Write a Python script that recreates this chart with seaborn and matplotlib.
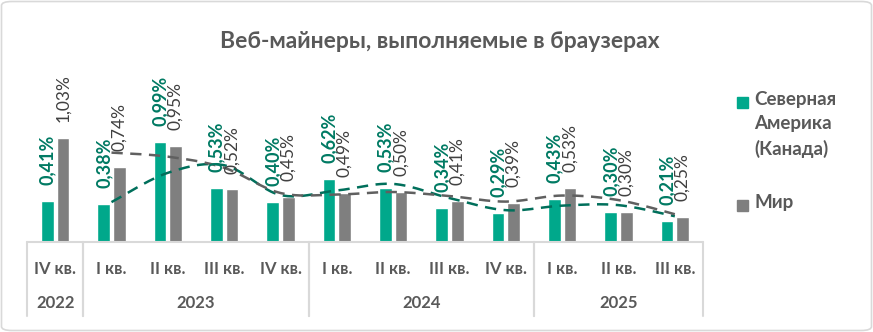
import numpy as np
import pandas as pd
import matplotlib
matplotlib.use("Agg")
import matplotlib.pyplot as plt
import matplotlib.transforms as mtransforms
from matplotlib.patches import FancyBboxPatch, Rectangle
from matplotlib.lines import Line2D
import seaborn as sns

# ---------------- data ----------------
quarters = ["IV кв.", "I кв.", "II кв.", "III кв.", "IV кв.",
            "I кв.", "II кв.", "III кв.", "IV кв.",
            "I кв.", "II кв.", "III кв."]
years = ["2022", "2023", "2023", "2023", "2023",
         "2024", "2024", "2024", "2024",
         "2025", "2025", "2025"]
north_america = [0.41, 0.38, 0.99, 0.53, 0.40, 0.62, 0.53, 0.34, 0.29, 0.43, 0.30, 0.21]
world = [1.03, 0.74, 0.95, 0.52, 0.45, 0.49, 0.50, 0.41, 0.39, 0.53, 0.30, 0.25]
series_names = ["Северная\nАмерика\n(Канада)", "Мир"]
title = "Веб-майнеры, выполняемые в браузерах"

# ---------------- style ----------------
sns.set_theme(style="white")
plt.rcParams["font.family"] = ["Lato", "DejaVu Sans"]

GREEN = "#00A88B"
GREEN_LBL = "#007A63"
GREEN_TREND = "#006F5B"
GRAY = "#7F7F7F"
GRAY_LBL = "#404040"
GRAY_TREND = "#606060"
TXT = "#595959"
LINE = "#D9D9D9"

W, H = 873, 332
fig = plt.figure(figsize=(W / 100, H / 100), dpi=100)

def fx(px):
    return px / W

def fy(py):
    return 1 - py / H

ax_left, ax_right, base_y = 27, 703, 242
ymax = 1.2
px_per_unit = 101
ax = fig.add_axes([fx(ax_left), fy(base_y), fx(ax_right - ax_left),
                   px_per_unit * ymax / H])

keys = [f"{q} {y} #{i}" for i, (q, y) in enumerate(zip(quarters, years))]
df = pd.DataFrame({
    "key": keys * 2,
    "value": north_america + world,
    "series": [series_names[0]] * len(keys) + [series_names[1]] * len(keys),
})

sns.barplot(data=df, x="key", y="value", hue="series", order=keys,
            hue_order=series_names, palette=[GREEN, GRAY],
            width=0.55, gap=0.18, legend=False, ax=ax, saturation=1)

ax.set_xlim(-0.5, len(keys) - 0.5)
ax.set_ylim(0, ymax)
ax.axis("off")

# value labels
fmt = lambda v: f"{v:.2f}%".replace(".", ",")
ax.bar_label(ax.containers[0], labels=[fmt(v) for v in north_america],
             padding=11.5, rotation=90, color=GREEN_LBL, fontsize=13,
             fontweight="bold")
ax.bar_label(ax.containers[1], labels=[fmt(v) for v in world],
             padding=11.5, rotation=90, color=GRAY_LBL, fontsize=12.5)

# moving-average trendlines (period 2), smoothed like Excel
def smooth(xs, ys, n=24):
    P = np.column_stack([xs, ys])
    P = np.vstack([P[0], P, P[-1]])
    out = []
    for i in range(1, len(P) - 2):
        p0, p1, p2, p3 = P[i - 1], P[i], P[i + 1], P[i + 2]
        b1 = p1 + (p2 - p0) / 6
        b2 = p2 - (p3 - p1) / 6
        t = np.linspace(0, 1, n)[:, None]
        seg = ((1 - t) ** 3) * p1 + 3 * ((1 - t) ** 2) * t * b1 + 3 * (1 - t) * t ** 2 * b2 + t ** 3 * p2
        out.append(seg if i == 1 else seg[1:])
    out = np.vstack(out)
    return out[:, 0], out[:, 1]

xpos = np.arange(len(keys))
for vals, col in [(north_america, GREEN_TREND), (world, GRAY_TREND)]:
    ma = pd.Series(vals).rolling(2).mean()
    mask = ma.notna().values
    sx, sy = smooth(xpos[mask], ma[mask].values)
    sns.lineplot(x=sx, y=sy, ax=ax, color=col, lw=1.8, sort=False,
                 linestyle=(0, (4.5, 3)), legend=False)

# category axis (two levels)
trans = mtransforms.blended_transform_factory(ax.transData, fig.transFigure)
fig.add_artist(Line2D([fx(ax_left), fx(ax_right)], [fy(base_y), fy(base_y)],
                      color=LINE, lw=1.5))
for i, q in enumerate(quarters):
    ax.text(i, fy(269), q, transform=trans, ha="center", va="center",
            fontsize=12, fontweight="bold", color=TXT)
groups = []
for i, y in enumerate(years):
    if groups and groups[-1][0] == y:
        groups[-1][2] = i
    else:
        groups.append([y, i, i])
for y, a, b in groups:
    ax.text((a + b) / 2, fy(303), y, transform=trans, ha="center",
            va="center", fontsize=12, fontweight="bold", color=TXT)
    for xb in (a - 0.5, b + 0.5):
        ax.add_artist(Line2D([xb, xb], [fy(base_y), fy(316)], transform=trans,
                             color=LINE, lw=1.5, clip_on=False))

# title
fig.text(fx(440), fy(42), title, ha="center", va="center", fontsize=16.5,
         fontweight="bold", color=TXT)

# legend
for py, name, col in [(102, series_names[0], GREEN), (205, series_names[1], GRAY)]:
    fig.add_artist(Rectangle((fx(737), fy(py + 5.5)), fx(11), 11 / H,
                             color=col, transform=fig.transFigure))
    fig.text(fx(754), fy(py - 11), name, ha="left", va="top", fontsize=13.5,
             fontweight="bold", color=TXT, linespacing=1.5)

# border
fig.add_artist(FancyBboxPatch((fx(1.5), fy(330.5)), fx(870), 329 / H,
                              boxstyle="round,pad=0,rounding_size=0.012",
                              transform=fig.transFigure, fill=False,
                              edgecolor=LINE, lw=1.2))

fig.savefig("out.png", dpi=100)
